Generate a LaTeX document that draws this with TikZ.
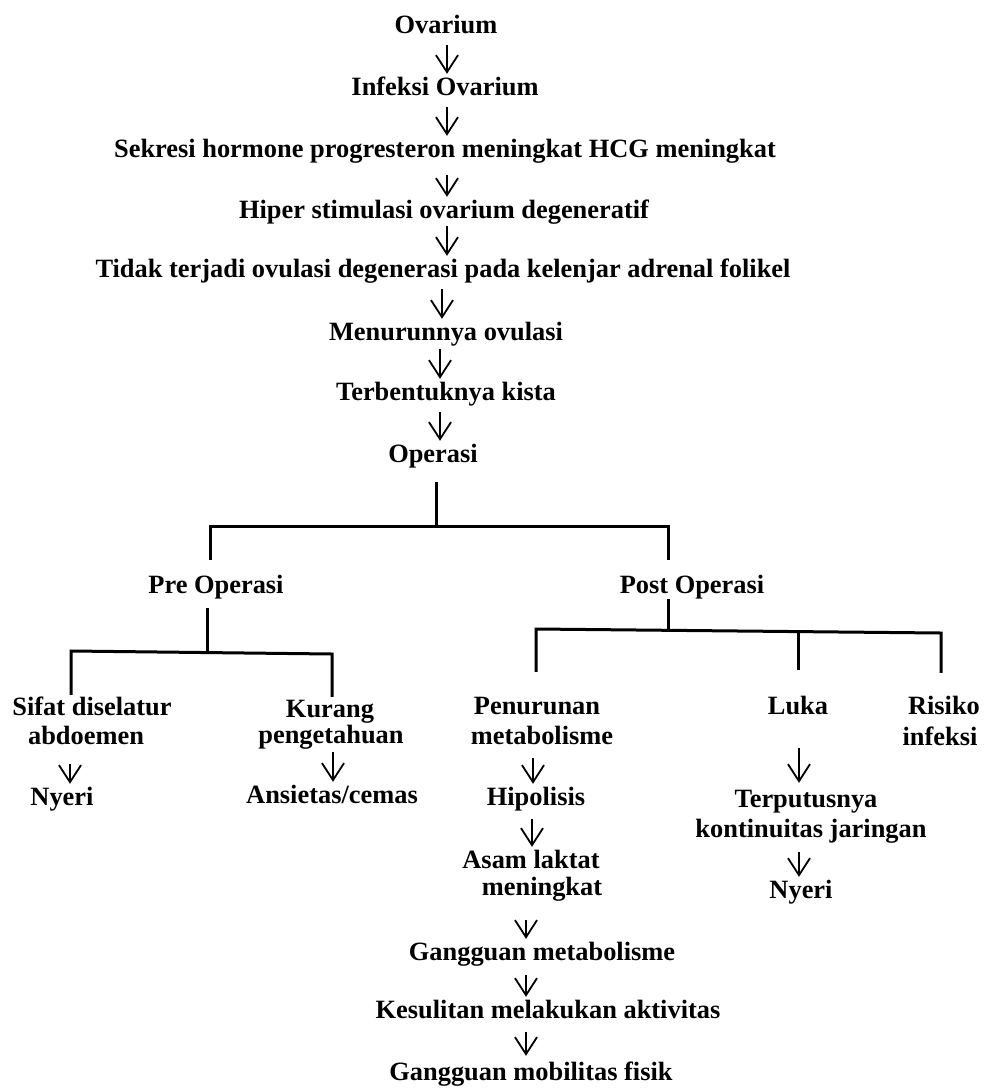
\documentclass[tikz,border=0pt]{standalone}
\usepackage{fontspec}
\setmainfont{Liberation Serif}
\usetikzlibrary{arrows.meta}
\begin{document}
\begin{tikzpicture}[x=1pt,y=-1pt,
  lbl/.style={inner sep=0pt, text height=18pt, text depth=6pt, anchor=base,
    font=\bfseries\fontsize{26.4}{30}\selectfont},
  arr/.style={line width=1.8pt, -{Straight Barb[length=17pt,width=22pt,line width=1.8pt]},
    shorten <=6pt, shorten >=3pt},
  tree/.style={line width=3pt}]
\useasboundingbox (0,0) rectangle (989,1088);

% main chain
\node[lbl] (ov)  at (446,33)  {Ovarium};
\node[lbl] (inf) at (445,95)  {Infeksi Ovarium};
\node[lbl] (sek) at (445,157) {Sekresi hormone progresteron meningkat HCG meningkat};
\node[lbl] (hip) at (444,218) {Hiper stimulasi ovarium degeneratif};
\node[lbl] (tid) at (443,277) {Tidak terjadi ovulasi degenerasi pada kelenjar adrenal folikel};
\node[lbl] (men) at (446,340) {Menurunnya ovulasi};
\node[lbl] (ter) at (446,400) {Terbentuknya kista};
\node[lbl] (op)  at (433,462) {Operasi};

\draw[arr] (ov.south -| 447,0) -- (inf.north -| 447,0);
\draw[arr] (inf.south -| 447,0) -- (sek.north -| 447,0);
\draw[arr, shorten <=12pt] (sek.south -| 447,0) -- (hip.north -| 447,0);
\draw[arr, shorten <=2pt] (hip.south -| 447,0) -- (tid.north -| 447,0);
\draw[arr] (tid.south -| 442,0) -- (men.north -| 442,0);
\draw[arr, shorten <=3pt] (men.south -| 440,0) -- (ter.north -| 440,0);
\draw[arr] (ter.south -| 440,0) -- (op.north -| 440,0);

% first split
\node[lbl] (pre)  at (216,593) {Pre Operasi};
\node[lbl] (post) at (692,593) {Post Operasi};
\coordinate (j0) at (436,526);
\coordinate (jl) at (210,526);
\coordinate (jr) at (668,526);
\draw[tree, shorten <=14pt] (op.south -| j0) -- (j0);
\draw[tree, shorten <=15pt, shorten >=15pt] (pre.north -| jl) -- (jl) -- (jr) -- (post.north -| jr);

% pre operasi branch
\node[lbl] (sif1) at (92,715)  {Sifat diselatur};
\node[lbl] (sif2) at (86,744)  {abdoemen};
\node[lbl] (kur1) at (330,717) {Kurang};
\node[lbl] (kur2) at (331,743) {pengetahuan};
\node[lbl] (nyL)  at (62,805)  {Nyeri};
\node[lbl] (ans)  at (332,803) {Ansietas/cemas};
\coordinate (jp)  at (207,652);
\coordinate (jpl) at (71,651);
\coordinate (jpr) at (332,654);
\draw[tree, shorten <=9pt] (pre.south -| jp) -- (jp);
\draw[tree, shorten <=2pt, shorten >=2pt] (sif1.north -| jpl) -- (jpl) -- (jpr) -- (kur1.north -| jpr);
\draw[arr, shorten <=14pt] (sif2.south -| 70,0) -- (nyL.north -| 70,0);
\draw[arr, shorten <=3pt] (kur2.south -| 333,0) -- (ans.north -| 333,0);

% post operasi branch
\node[lbl] (pen1) at (537,714) {Penurunan};
\node[lbl] (pen2) at (542,744) {metabolisme};
\node[lbl] (luka) at (798,714) {Luka};
\node[lbl] (ris1) at (944,714) {Risiko};
\node[lbl] (ris2) at (940,745) {infeksi};
\coordinate (jq)  at (668,630);
\coordinate (jql) at (536,629);
\coordinate (jqm) at (798,631);
\coordinate (jqr) at (941,633);
\draw[tree] (post.south -| jq) -- (jq);
\draw[tree, shorten <=24pt, shorten >=23pt] (pen1.north -| jql) -- (jql) -- (jqr) -- (ris1.north -| jqr);
\draw[tree, shorten >=26pt] (jqm) -- (luka.north -| jqm);

% metabolisme chain
\node[lbl] (hipo)  at (536,805)  {Hipolisis};
\node[lbl] (asam1) at (531,868)  {Asam laktat};
\node[lbl] (asam2) at (542,895)  {meningkat};
\node[lbl] (gm)    at (542,960)  {Gangguan metabolisme};
\node[lbl] (kes)   at (548,1018) {Kesulitan melakukan aktivitas};
\node[lbl] (gmf)   at (531,1080) {Gangguan mobilitas fisik};
\draw[arr, shorten <=8pt] (pen2.south -| 533,0) -- (hipo.north -| 533,0);
\draw[arr, shorten <=8pt] (hipo.south -| 532,0) -- (asam1.north -| 532,0);
\draw[arr, shorten <=19pt] (asam2.south -| 526,0) -- (gm.north -| 526,0);
\draw[arr, shorten <=9pt] (gm.south -| 526,0) -- (kes.north -| 526,0);
\draw[arr, shorten <=8pt, shorten >=6pt] (kes.south -| 526,0) -- (gmf.north -| 526,0);

% luka chain
\node[lbl] (put1) at (806,807) {Terputusnya};
\node[lbl] (put2) at (811,837) {kontinuitas jaringan};
\node[lbl] (nyR)  at (801,898) {Nyeri};
\draw[arr, shorten <=28pt, shorten >=6pt] (luka.south -| 799,0) -- (put1.north -| 799,0);
\draw[arr, shorten <=9pt] (put2.south -| 799,0) -- (nyR.north -| 799,0);
\end{tikzpicture}
\end{document}
